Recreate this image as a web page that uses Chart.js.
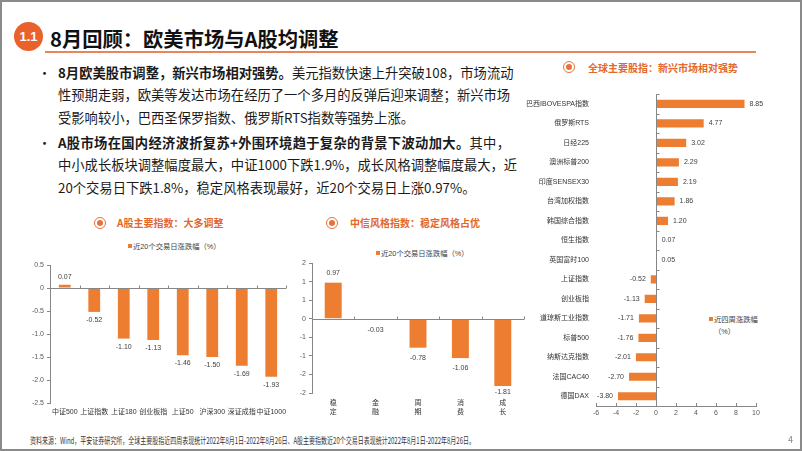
<!DOCTYPE html>
<html><head><meta charset="utf-8">
<script src="https://cdn.jsdelivr.net/npm/chart.js@4.4.0/dist/chart.umd.min.js"></script>
<style>
html,body{margin:0;padding:0;background:#fff;}
#page{position:relative;width:802px;height:451px;overflow:hidden;font-family:"Noto Sans CJK SC",sans-serif;color:#1a1a1a;}
#frame{position:absolute;left:0;top:0;width:798px;height:447px;border:2px solid #8a8a8a;pointer-events:none;z-index:5;}
.abs{position:absolute;white-space:nowrap;}
#badge{left:14px;top:22px;width:29px;height:29px;border-radius:50%;background:#E9612B;color:#fff;font:bold 13px "Liberation Sans",Arial,sans-serif;line-height:29px;text-align:center;}
#title{left:50px;top:24px;font-size:20.3px;font-weight:bold;line-height:28px;color:#111;}
#rule{left:45px;top:51px;width:711px;height:2px;background:#E9855A;}
.bul{position:absolute;left:38px;font-size:13px;line-height:22.5px;}
.para{position:absolute;left:58px;font-size:13.3px;line-height:22.5px;}
.ln{display:block;white-space:nowrap;}
.jl{width:452px;text-align:justify;text-align-last:justify;}
b{font-weight:bold;}
canvas{position:absolute;}
.ico{position:absolute;width:10px;height:10px;border:1.5px solid #E8733A;border-radius:50%;}
.ico::after{content:'';position:absolute;left:2px;top:2px;width:6px;height:6px;border-radius:50%;background:#E8733A;}
.ct{position:absolute;font-size:10px;font-weight:bold;color:#E2682C;line-height:14px;white-space:nowrap;}
.lg{position:absolute;font-size:7.3px;color:#404040;line-height:9px;white-space:nowrap;font-family:"Liberation Sans","Noto Sans CJK SC",sans-serif;}
.sq{display:inline-block;width:4px;height:4px;background:#ED7D31;margin-right:1px;vertical-align:1px;}
#foot{left:30px;top:434px;font-size:8.6px;line-height:12px;color:#333;transform-origin:0 50%;}
#pno{left:788px;top:434px;font-size:9px;color:#888;line-height:12px;}
</style></head>
<body><div id="page">
<div id="frame"></div>
<div id="badge" class="abs">1.1</div>
<div id="title" class="abs">8月回顾：欧美市场与A股均调整</div>
<div id="rule" class="abs"></div>

<div class="bul" style="top:61.75px">•</div>
<div class="para" style="top:61.75px">
<span class="ln jl"><b>8月欧美股市调整，新兴市场相对强势。</b>美元指数快速上升突破108，市场流动</span>
<span class="ln jl">性预期走弱，欧美等发达市场在经历了一个多月的反弹后迎来调整；新兴市场</span>
<span class="ln">受影响较小，巴西圣保罗指数、俄罗斯RTS指数等强势上涨。</span>
</div>
<div class="bul" style="top:131.5px">•</div>
<div class="para" style="top:131.5px">
<span class="ln jl"><b>A股市场在国内经济波折复苏+外围环境趋于复杂的背景下波动加大。</b>其中，</span>
<span class="ln jl">中小成长板块调整幅度最大，中证1000下跌1.9%，成长风格调整幅度最大，近</span>
<span class="ln">20个交易日下跌1.8%，稳定风格表现最好，近20个交易日上涨0.97%。</span>
</div>

<div class="ico" style="left:93.5px;top:216.5px"></div>
<div class="ct" style="left:117px;top:216px">A股主要指数：大多调整</div>
<div class="lg" style="left:128px;top:242px"><span class="sq"></span><span id="lgA"></span></div>

<div class="ico" style="left:325.5px;top:216.5px"></div>
<div class="ct" style="left:350px;top:216px">中信风格指数：稳定风格占优</div>
<div class="lg" style="left:376px;top:248.5px"><span class="sq"></span><span id="lgM"></span></div>

<div class="ico" style="left:562.5px;top:61px"></div>
<div class="ct" style="left:588px;top:61px">全球主要股指：新兴市场相对强势</div>
<div class="lg" style="left:709px;top:314.5px"><span class="sq"></span><span id="lgG"></span></div>
<div class="lg" style="left:714px;top:326.5px" id="lgG2"></div>

<canvas id="cA" width="296" height="170" style="left:0;top:255px"></canvas>
<canvas id="cM" width="274" height="172" style="left:260px;top:253px"></canvas>
<canvas id="cG" width="282" height="342" style="left:520px;top:83px"></canvas>

<div id="foot" class="abs">资料来源：Wind，平安证券研究所，全球主要股指近四周表现统计2022年8月1日-2022年8月26日、A股主要指数近20个交易日表现统计2022年8月1日-2022年8月26日。</div>
<div id="pno" class="abs">4</div>
</div>
<script>
// ---------- data ----------
const A_CATEGORIES = ['中证500','上证指数','上证180','创业板指','上证50','沪深300','深证成指','中证1000'];
const A_VALUES = [0.07,-0.52,-1.10,-1.13,-1.46,-1.50,-1.69,-1.93];
const A_LEGEND = '近20个交易日涨跌幅（%）';

const STYLE_CATEGORIES = [['稳','定'],['金','融'],['周','期'],['消','费'],['成','长']];
const STYLE_VALUES = [0.97,-0.03,-0.78,-1.06,-1.81];
const STYLE_TICK_LABELS = ['-2','-2','-1','-1','0','1','1','2'];
const STYLE_LEGEND = '近20个交易日涨跌幅（%）';

const GLOBAL_CATEGORIES = ['巴西IBOVESPA指数','俄罗斯RTS','日经225','澳洲标普200','印度SENSEX30','台湾加权指数','韩国综合指数','恒生指数','英国富时100','上证指数','创业板指','道琼斯工业指数','标普500','纳斯达克指数','法国CAC40','德国DAX'];
const GLOBAL_VALUES = [8.85,4.77,3.02,2.29,2.19,1.86,1.20,0.07,0.05,-0.52,-1.13,-1.71,-1.76,-2.01,-2.70,-3.80];
const GLOBAL_LEGEND = ['近四周涨跌幅','（%）'];

// ---------- setup ----------
document.getElementById('lgA').textContent = A_LEGEND;
document.getElementById('lgM').textContent = STYLE_LEGEND;
document.getElementById('lgG').textContent = GLOBAL_LEGEND[0];
document.getElementById('lgG2').textContent = GLOBAL_LEGEND[1];

(function(){
  const f = document.getElementById('foot');
  const w = f.getBoundingClientRect().width;
  if (w > 0) f.style.transform = 'scaleX(' + (445 / w) + ')';
})();

const ORANGE = '#ED7D31';
const AXIS = '#868686';
const FONT = '"Liberation Sans","Noto Sans CJK SC",sans-serif';
Chart.defaults.font.family = FONT;
Chart.defaults.font.size = 7;
Chart.defaults.color = '#595959';
Chart.defaults.animation = false;

const valueLabels = {
  id:'valueLabels',
  afterDatasetsDraw(chart, args, opts){
    const ctx = chart.ctx, meta = chart.getDatasetMeta(0), data = chart.data.datasets[0].data;
    const horiz = chart.options.indexAxis === 'y';
    ctx.save();
    ctx.font = '7px ' + FONT; ctx.fillStyle = '#404040';
    meta.data.forEach((bar,i)=>{
      const v = data[i], txt = v.toFixed(2);
      if (horiz){
        ctx.textBaseline = 'middle';
        if (v >= 0){ ctx.textAlign='left'; ctx.fillText(txt, bar.x + opts.offset, bar.y); }
        else { ctx.textAlign='right'; ctx.fillText(txt, bar.x - opts.offset, bar.y); }
      } else {
        ctx.textAlign='center'; ctx.textBaseline='middle';
        let y = v >= 0 ? bar.y - opts.offset : bar.y + opts.offset;
        if (opts.clamp) y = Math.min(y, chart.chartArea.bottom - 1);
        ctx.fillText(txt, bar.x, y);
      }
    });
    ctx.restore();
  }
};

const axisMarks = {
  id:'axisMarks',
  afterDatasetsDraw(chart){
    const {ctx, scales, chartArea} = chart;
    const horiz = chart.options.indexAxis === 'y';
    const cat = horiz ? scales.y : scales.x;
    const val = horiz ? scales.x : scales.y;
    const z = Math.round(val.getPixelForValue(0)) + 0.5;
    const n = chart.data.labels.length;
    const half = (cat.getPixelForValue(1) - cat.getPixelForValue(0)) / 2;
    ctx.save(); ctx.strokeStyle = AXIS; ctx.lineWidth = 1; ctx.beginPath();
    if (horiz){
      ctx.moveTo(z, chartArea.top); ctx.lineTo(z, chartArea.bottom);
      for (let i=0;i<=n;i++){ const p = Math.round(cat.getPixelForValue(i) - half) + 0.5; ctx.moveTo(z, p); ctx.lineTo(z+3, p); }
      val.ticks.forEach(t=>{ const p = Math.round(val.getPixelForValue(t.value)) + 0.5; ctx.moveTo(p, chartArea.bottom); ctx.lineTo(p, chartArea.bottom-3); });
    } else {
      ctx.moveTo(chartArea.left, z); ctx.lineTo(chartArea.right, z);
      for (let i=0;i<=n;i++){ const p = Math.round(cat.getPixelForValue(i) - half) + 0.5; ctx.moveTo(p, z); ctx.lineTo(p, z-3); }
    }
    ctx.stroke(); ctx.restore();
  }
};

function barDataset(label, values, pct){
  return {label, data: values, backgroundColor: ORANGE, barPercentage: pct, categoryPercentage: 1};
}

new Chart(document.getElementById('cA'), {
  type:'bar',
  data:{labels:A_CATEGORIES, datasets:[barDataset(A_LEGEND, A_VALUES, 0.4)]},
  options:{
    responsive:false, animation:false,
    layout:{padding:{top:10,right:10,left:0,bottom:0}},
    plugins:{legend:{display:false}, tooltip:{enabled:false}, valueLabels:{offset:8}},
    scales:{
      x:{grid:{display:false,drawTicks:false}, border:{display:false},
         ticks:{padding:5,color:'#333',maxRotation:0,autoSkip:false},
         afterFit:s=>{s.height=22;}},
      y:{min:-2.5,max:0.5, ticks:{stepSize:0.5,padding:3,color:'#595959'},
         grid:{drawOnChartArea:false,drawTicks:true,tickLength:3,color:AXIS},
         border:{display:true,color:AXIS},
         afterFit:s=>{s.width=50;}}
    }
  },
  plugins:[valueLabels, axisMarks]
});

new Chart(document.getElementById('cM'), {
  type:'bar',
  data:{labels:STYLE_CATEGORIES, datasets:[barDataset(STYLE_LEGEND, STYLE_VALUES, 0.4)]},
  options:{
    responsive:false, animation:false,
    layout:{padding:{top:10,right:10,left:0,bottom:0}},
    plugins:{legend:{display:false}, tooltip:{enabled:false}, valueLabels:{offset:10, clamp:true}},
    scales:{
      x:{grid:{display:false,drawTicks:false}, border:{display:false},
         ticks:{padding:6,color:'#333',maxRotation:0,autoSkip:false},
         afterFit:s=>{s.height=32;}},
      y:{min:-2,max:1.5, ticks:{stepSize:0.5,padding:3,color:'#595959',callback:(v,i)=>STYLE_TICK_LABELS[i]},
         grid:{drawOnChartArea:false,drawTicks:true,tickLength:3,color:AXIS},
         border:{display:true,color:AXIS},
         afterFit:s=>{s.width=52;}}
    }
  },
  plugins:[valueLabels, axisMarks]
});

new Chart(document.getElementById('cG'), {
  type:'bar',
  data:{labels:GLOBAL_CATEGORIES, datasets:[barDataset(GLOBAL_LEGEND.join(''), GLOBAL_VALUES, 0.42)]},
  options:{
    indexAxis:'y',
    responsive:false, animation:false,
    layout:{padding:{top:10,right:46,left:0,bottom:0}},
    plugins:{legend:{display:false}, tooltip:{enabled:false}, valueLabels:{offset:5}},
    scales:{
      y:{grid:{display:false,drawTicks:false}, border:{display:false},
         ticks:{padding:7,color:'#333',autoSkip:false},
         afterFit:s=>{s.width=76;}},
      x:{min:-6,max:10, ticks:{stepSize:2,padding:3,color:'#595959'},
         grid:{display:false,drawTicks:false},
         border:{display:true,color:AXIS},
         afterFit:s=>{s.height=19;}}
    }
  },
  plugins:[valueLabels, axisMarks]
});
</script>
</body></html>
